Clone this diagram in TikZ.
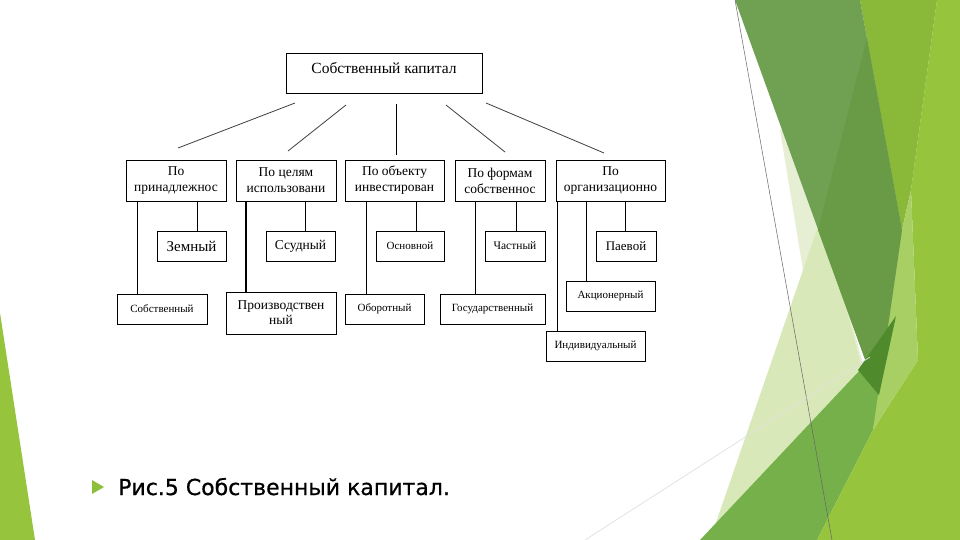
\documentclass[tikz,border=0pt]{standalone}
\usepackage{fontspec}
\setmainfont{Liberation Serif}
\newfontfamily\capfont[FakeBold=0.6]{DejaVu Sans}
\definecolor{darkband}{HTML}{70A052}
\definecolor{darksub}{HTML}{699B46}
\definecolor{lightband}{HTML}{8AB93A}
\definecolor{brightg}{HTML}{96C43C}
\definecolor{lightmid}{HTML}{A8CF63}
\definecolor{paleA}{HTML}{E6EFD3}
\definecolor{paleB}{HTML}{D9E8B9}
\definecolor{mediumg}{HTML}{76B04A}
\definecolor{darkestg}{HTML}{4F8B2C}
\definecolor{bullet}{HTML}{8EBF3C}
\begin{document}
\begin{tikzpicture}[x=1pt,y=-1pt,
  box/.style={draw=black, line width=0.9pt, inner sep=1pt, align=center},
  bigt/.style={font=\fontsize{13.5}{16}\selectfont},
  midt/.style={font=\fontsize{13.5}{15}\selectfont},
  smallt/.style={font=\fontsize{11}{13}\selectfont},
  con/.style={draw=black, line width=0.9pt},
  diag/.style={draw=black!75, line width=0.8pt}]
\useasboundingbox (0,0) rectangle (960,540);
\fill[white] (0,0) rectangle (960,540);
% background shapes
\fill[paleA] (780,130) -- (808,300) -- (870,390) -- (800,130) -- cycle;
\fill[paleB] (822,215) -- (710,540) -- (780,540) -- (862,368) -- cycle;
\fill[mediumg] (700,540) -- (862,368) -- (880,395) -- (873,430) -- (817,540) -- cycle;
\fill[brightg] (937,0) -- (960,0) -- (960,540) -- (817,540) -- (873,430) -- (918,360) -- (911,190) -- cycle;
\fill[lightband] (860,0) -- (937,0) -- (911,190) -- (902,230) -- cycle;
\fill[lightmid] (911,190) -- (918,360) -- (873,430) -- (878,395) -- (902,230) -- cycle;
\fill[darkband] (735,0) -- (860,0) -- (902,230) -- (878,395) -- cycle;
\fill[darksub] (867,38) -- (818,230) -- (878,395) -- (902,230) -- cycle;
\fill[darkestg] (896,316) -- (858,370) -- (879,395) -- cycle;
\fill[brightg] (0,313) -- (35,540) -- (0,540) -- cycle;
\draw[black!60, line width=0.5pt] (735,0) -- (832,540);
\draw[black!12, line width=0.7pt] (585,540) -- (870,357);
% boxes
\node[box, minimum width=196, minimum height=40, text height=18, text depth=18, inner ysep=2pt, font=\fontsize{15.5}{17}\selectfont] (b0) at (384,73.5) {Собственный капитал};
\node[box, bigt, minimum width=100, minimum height=41] (b1) at (176,180.5) {По\\принадлежнос};
\node[box, bigt, minimum width=100, minimum height=41] (b2) at (286,180.5) {По целям\\использовани};
\node[box, bigt, minimum width=99, minimum height=41] (b3) at (394.5,180.5) {По объекту\\инвестирован};
\node[box, bigt, minimum width=90, minimum height=41] (b4) at (500,180.5) {По формам\\собственнос};
\node[box, bigt, minimum width=109, minimum height=41] (b5) at (610.5,180.5) {По\\организационно};
\node[box, font=\fontsize{15}{16}\selectfont, minimum width=69, minimum height=30] (z1) at (191.5,246) {Земный};
\node[box, midt, minimum width=69, minimum height=30] (z2) at (300.5,246) {Ссудный};
\node[box, smallt, minimum width=68, minimum height=30] (z3) at (410,246) {Основной};
\node[box, font=\fontsize{11.5}{13}\selectfont, minimum width=60, minimum height=30] (z4) at (515,246) {Частный};
\node[box, font=\fontsize{13}{15}\selectfont, minimum width=60, minimum height=30] (z5) at (626,246) {Паевой};
\node[box, smallt, minimum width=90, minimum height=30] (s1) at (162,309) {Собственный};
\node[box, midt, minimum width=110, minimum height=42] (s2) at (281,313) {Производствен\\ный};
\node[box, smallt, minimum width=79, minimum height=30] (s3) at (384.5,309) {Оборотный};
\node[box, smallt, minimum width=105, minimum height=30] (s4) at (492.5,309) {Государственный};
\node[box, smallt, minimum width=89, minimum height=30] (a5) at (610.5,296) {Акционерный};
\node[box, smallt, minimum width=99, minimum height=30] (i5) at (595.5,346) {Индивидуальный};
% connector x positions
\coordinate (x1) at (197,0);
\coordinate (x2) at (137,0);
\coordinate (x3) at (305,0);
\coordinate (x4) at (246,0);
\coordinate (x5) at (416,0);
\coordinate (x6) at (366,0);
\coordinate (x7) at (516,0);
\coordinate (x8) at (475,0);
\coordinate (x9) at (625,0);
\coordinate (x10) at (586,0);
\coordinate (x11) at (557,0);
\draw[con] (x1 |- b1.south) -- (x1 |- z1.north);
\draw[con] (x2 |- b1.south) -- (x2 |- s1.north);
\draw[con] (x3 |- b2.south) -- (x3 |- z2.north);
\draw[con, line width=2pt] (x4 |- b2.south) -- (x4 |- s2.north);
\draw[con] (x5 |- b3.south) -- (x5 |- z3.north);
\draw[con] (x6 |- b3.south) -- (x6 |- s3.north);
\draw[con] (x7 |- b4.south) -- (x7 |- z4.north);
\draw[con] (x8 |- b4.south) -- (x8 |- s4.north);
\draw[con] (x9 |- b5.south) -- (x9 |- z5.north);
\draw[con] (x10 |- b5.south) -- (x10 |- a5.north);
\draw[con] (x11 |- b5.south) -- (x11 |- i5.north);
% diagonal connectors (not touching boxes)
\coordinate (d1a) at (295,103); \coordinate (d1b) at (178,148);
\coordinate (d2a) at (346,105); \coordinate (d2b) at (288,151);
\coordinate (d3a) at (396,104); \coordinate (d3b) at (396,155);
\coordinate (d4a) at (446,105); \coordinate (d4b) at (505,152);
\coordinate (d5a) at (486,103); \coordinate (d5b) at (604,153);
\draw[diag] (d1a) -- (d1b);
\draw[diag] (d2a) -- (d2b);
\draw[con] (d3a) -- (d3b);
\draw[diag] (d4a) -- (d4b);
\draw[diag] (d5a) -- (d5b);
% caption
\fill[bullet] (92,480) -- (104,487) -- (92,494) -- cycle;
\node[anchor=base west, inner sep=0pt, font=\capfont\fontsize{22}{25}\selectfont] (cap) at (118,495) {Рис.5 Собственный капитал.};
\end{tikzpicture}
\end{document}
